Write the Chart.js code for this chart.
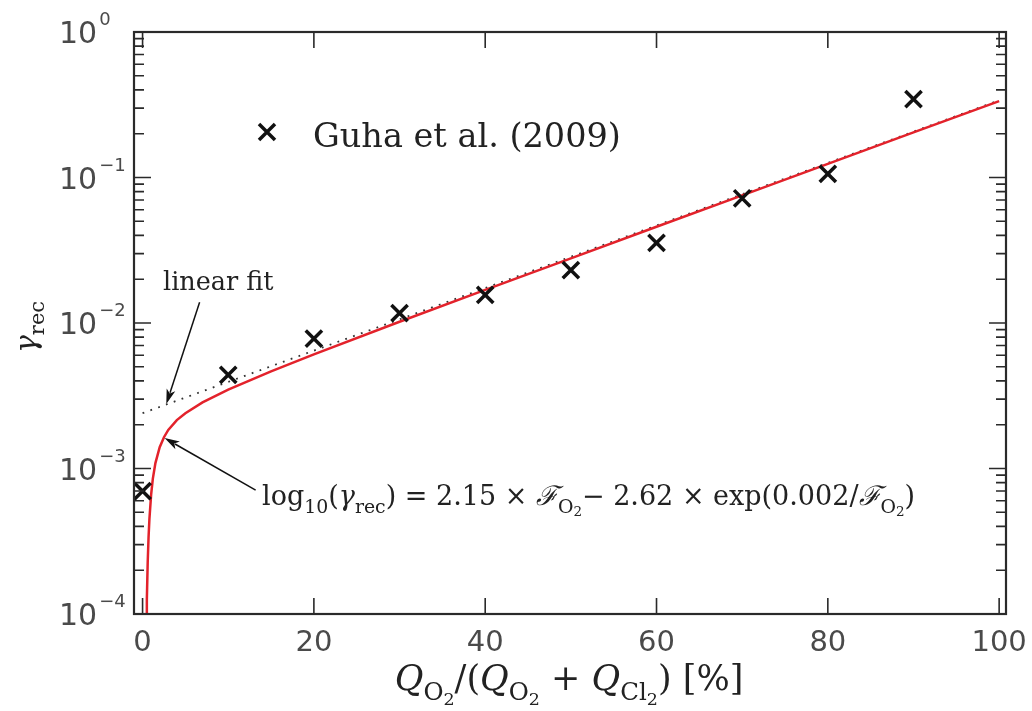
<!DOCTYPE html>
<html>
<head>
<meta charset="utf-8">
<script src="https://cdn.jsdelivr.net/npm/chart.js@4"></script>
<style>
  body { margin: 0; background: #fff; }
</style>
</head>
<body>
<canvas id="chart" width="1032" height="711"></canvas>
<script>
// Guha et al. (2009) measurements
const xMeasured = [0, 10, 20, 30, 40, 50, 60, 70, 80, 90];
const gammaMeasured = [7.0e-4, 4.4e-3, 7.8e-3, 1.17e-2, 1.56e-2, 2.31e-2, 3.55e-2, 7.2e-2, 0.106, 0.346];

// red fit curve
const xCurve = [0.4, 0.45, 0.5, 0.6, 0.7, 0.8, 1, 1.2, 1.5, 2, 2.5, 3, 4, 5, 7, 10, 15, 20, 30, 40, 50, 60, 70, 80, 90, 100];
const gammaCurve = [4.9e-5, 8.4e-5, 1.26e-4, 2.27e-4, 3.38e-4, 4.50e-4, 6.62e-4, 8.52e-4, 1.09e-3, 1.40e-3, 1.64e-3, 1.84e-3,
  2.15e-3, 2.40e-3, 2.85e-3, 3.48e-3, 4.65e-3, 6.08e-3, 1.02e-2, 1.69e-2, 2.78e-2, 4.59e-2, 7.54e-2, 0.124, 0.204, 0.335];

// dotted linear fit
const xLinear = [0, 100];
const gammaLinear = [2.4e-3, 0.339];

// ticks
const xTickLabels = [0, 20, 40, 60, 80, 100];
const yDecades = [-4, -3, -2, -1, 0];

const SERIF = '"DejaVu Serif", "Liberation Serif", serif';
const SANS = '"DejaVu Sans", sans-serif';

function toPoints(xs, ys) {
  return xs.map((v, i) => ({ x: v, y: ys[i] }));
}

// text made of pieces: {t, k: 'n'|'sub'|'sub2'|'sup', it: italic}
const SIZE = { n: 1, sub: 0.7, sub2: 0.5, sup: 0.6 };
const SHIFT = { n: 0, sub: 0.28, sub2: 0.42, sup: -0.4 };

function drawRich(ctx, parts, x, y, size, align) {
  const fontFor = p => (p.it ? 'italic ' : '') + (size * SIZE[p.k]).toFixed(1) + 'px ' + SERIF;
  let total = 0;
  parts.forEach(p => { ctx.font = fontFor(p); p.w = ctx.measureText(p.t).width; total += p.w; });
  let cx = align === 'center' ? x - total / 2 : x;
  ctx.textAlign = 'left';
  ctx.textBaseline = 'alphabetic';
  parts.forEach(p => {
    ctx.font = fontFor(p);
    ctx.fillText(p.t, cx, y + size * SHIFT[p.k]);
    cx += p.w;
  });
}

function arrow(ctx, x1, y1, x2, y2) {
  const ang = Math.atan2(y2 - y1, x2 - x1);
  const L = 15, W = 4.5;
  const c = Math.cos(ang), s = Math.sin(ang);
  ctx.beginPath();
  ctx.moveTo(x1, y1);
  ctx.lineTo(x2 - c * L * 0.8, y2 - s * L * 0.8);
  ctx.stroke();
  ctx.beginPath();
  ctx.moveTo(x2, y2);
  ctx.lineTo(x2 - c * L - s * W, y2 - s * L + c * W);
  ctx.lineTo(x2 - c * L * 0.75, y2 - s * L * 0.75);
  ctx.lineTo(x2 - c * L + s * W, y2 - s * L - c * W);
  ctx.closePath();
  ctx.fill();
}

const O2 = [{ t: 'O', k: 'sub' }, { t: '2', k: 'sub2' }];

const decor = {
  id: 'decor',
  afterDatasetsDraw(chart) {
    const { ctx, chartArea: a, scales: { x, y } } = chart;
    ctx.save();

    // inward ticks
    ctx.strokeStyle = '#2a2a2a';
    ctx.lineWidth = 1.6;
    ctx.beginPath();
    xTickLabels.forEach(v => {
      const px = x.getPixelForValue(v);
      ctx.moveTo(px, a.bottom); ctx.lineTo(px, a.bottom - 16);
      ctx.moveTo(px, a.top); ctx.lineTo(px, a.top + 16);
    });
    yDecades.forEach(k => {
      for (let m = 1; m < 10; m++) {
        const v = m * Math.pow(10, k);
        if (v > 1.0001) break;
        const py = y.getPixelForValue(v);
        const len = m === 1 ? 17 : 10;
        ctx.moveTo(a.left, py); ctx.lineTo(a.left + len, py);
        ctx.moveTo(a.right, py); ctx.lineTo(a.right - len, py);
      }
    });
    ctx.stroke();

    // frame
    ctx.lineWidth = 2.2;
    ctx.strokeRect(a.left, a.top, a.right - a.left, a.bottom - a.top);

    // x tick labels
    ctx.fillStyle = '#4a4a4a';
    ctx.font = '29px ' + SANS;
    ctx.textAlign = 'center';
    ctx.textBaseline = 'alphabetic';
    xTickLabels.forEach(v => {
      ctx.fillText(String(v), x.getPixelForValue(v), a.bottom + 37);
    });

    // y tick labels 10^k
    yDecades.forEach(k => {
      const py = y.getPixelForValue(Math.pow(10, k));
      ctx.font = '30px ' + SANS;
      ctx.textAlign = 'left';
      ctx.fillText('10', 59, py + 11);
      const w = ctx.measureText('10').width;
      ctx.font = '18px ' + SANS;
      ctx.fillText(k === 0 ? '0' : '\u2212' + Math.abs(k), 59 + w + 2, py - 7);
    });

    // axis titles
    ctx.fillStyle = '#222';
    drawRich(ctx, [
      { t: 'Q', k: 'n', it: true }, ...O2, { t: '/(', k: 'n' },
      { t: 'Q', k: 'n', it: true }, ...O2, { t: ' + ', k: 'n' },
      { t: 'Q', k: 'n', it: true }, { t: 'Cl', k: 'sub' }, { t: '2', k: 'sub2' }, { t: ') [%]', k: 'n' }
    ], 569, 690, 35, 'center');

    ctx.save();
    ctx.translate(36, 327);
    ctx.rotate(-Math.PI / 2);
    drawRich(ctx, [{ t: '\u03b3', k: 'n', it: true }, { t: 'rec', k: 'sub' }], 0, 0, 30, 'center');
    ctx.restore();

    // legend
    ctx.strokeStyle = '#111';
    ctx.lineWidth = 3.5;
    ctx.beginPath();
    ctx.moveTo(259, 124); ctx.lineTo(275, 140);
    ctx.moveTo(275, 124); ctx.lineTo(259, 140);
    ctx.stroke();
    ctx.fillStyle = '#222';
    ctx.font = '33.5px ' + SERIF;
    ctx.textAlign = 'left';
    ctx.fillText('Guha et al. (2009)', 313, 147);

    // annotations
    ctx.font = '25.5px ' + SERIF;
    ctx.fillText('linear fit', 163, 290);
    drawRich(ctx, [
      { t: 'log', k: 'n' }, { t: '10', k: 'sub' }, { t: '(', k: 'n' }, { t: '\u03b3', k: 'n', it: true },
      { t: 'rec', k: 'sub' }, { t: ') = 2.15 \u00d7 ', k: 'n' }, { t: '\u2131', k: 'n', it: true },
      ...O2, { t: '\u2212 2.62 \u00d7 exp(0.002/', k: 'n' }, { t: '\u2131', k: 'n', it: true },
      ...O2, { t: ')', k: 'n' }
    ], 262, 505, 27, 'left');

    ctx.strokeStyle = '#111';
    ctx.fillStyle = '#111';
    ctx.lineWidth = 1.5;
    arrow(ctx, x.getPixelForValue(6.66), y.getPixelForValue(1.39e-2), x.getPixelForValue(2.77), y.getPixelForValue(2.77e-3));
    arrow(ctx, x.getPixelForValue(13.2), y.getPixelForValue(7.1e-4), x.getPixelForValue(2.57), y.getPixelForValue(1.62e-3));

    ctx.restore();
  }
};

new Chart(document.getElementById('chart'), {
  type: 'scatter',
  data: {
    datasets: [
      {
        label: 'Guha et al. (2009)',
        data: toPoints(xMeasured, gammaMeasured),
        pointStyle: 'crossRot',
        pointRadius: 11.5,
        pointBorderWidth: 3.5,
        borderColor: '#111',
        backgroundColor: '#111',
        showLine: false
      },
      {
        label: 'fit',
        data: toPoints(xCurve, gammaCurve),
        showLine: true,
        borderColor: '#e3222b',
        borderWidth: 2.5,
        pointRadius: 0,
        tension: 0
      },
      {
        label: 'linear fit',
        data: toPoints(xLinear, gammaLinear),
        showLine: true,
        borderColor: '#333',
        borderWidth: 1.8,
        borderDash: [1.8, 6.5],
        pointRadius: 0
      }
    ]
  },
  options: {
    responsive: false,
    animation: false,
    devicePixelRatio: 1,
    layout: { padding: { left: 134, top: 32, right: 26, bottom: 97 } },
    plugins: { legend: { display: false }, tooltip: { enabled: false } },
    scales: {
      x: { type: 'linear', min: -1, max: 100.8, display: false },
      y: { type: 'logarithmic', min: 1e-4, max: 1, display: false }
    }
  },
  plugins: [decor]
});
</script>
</body>
</html>
